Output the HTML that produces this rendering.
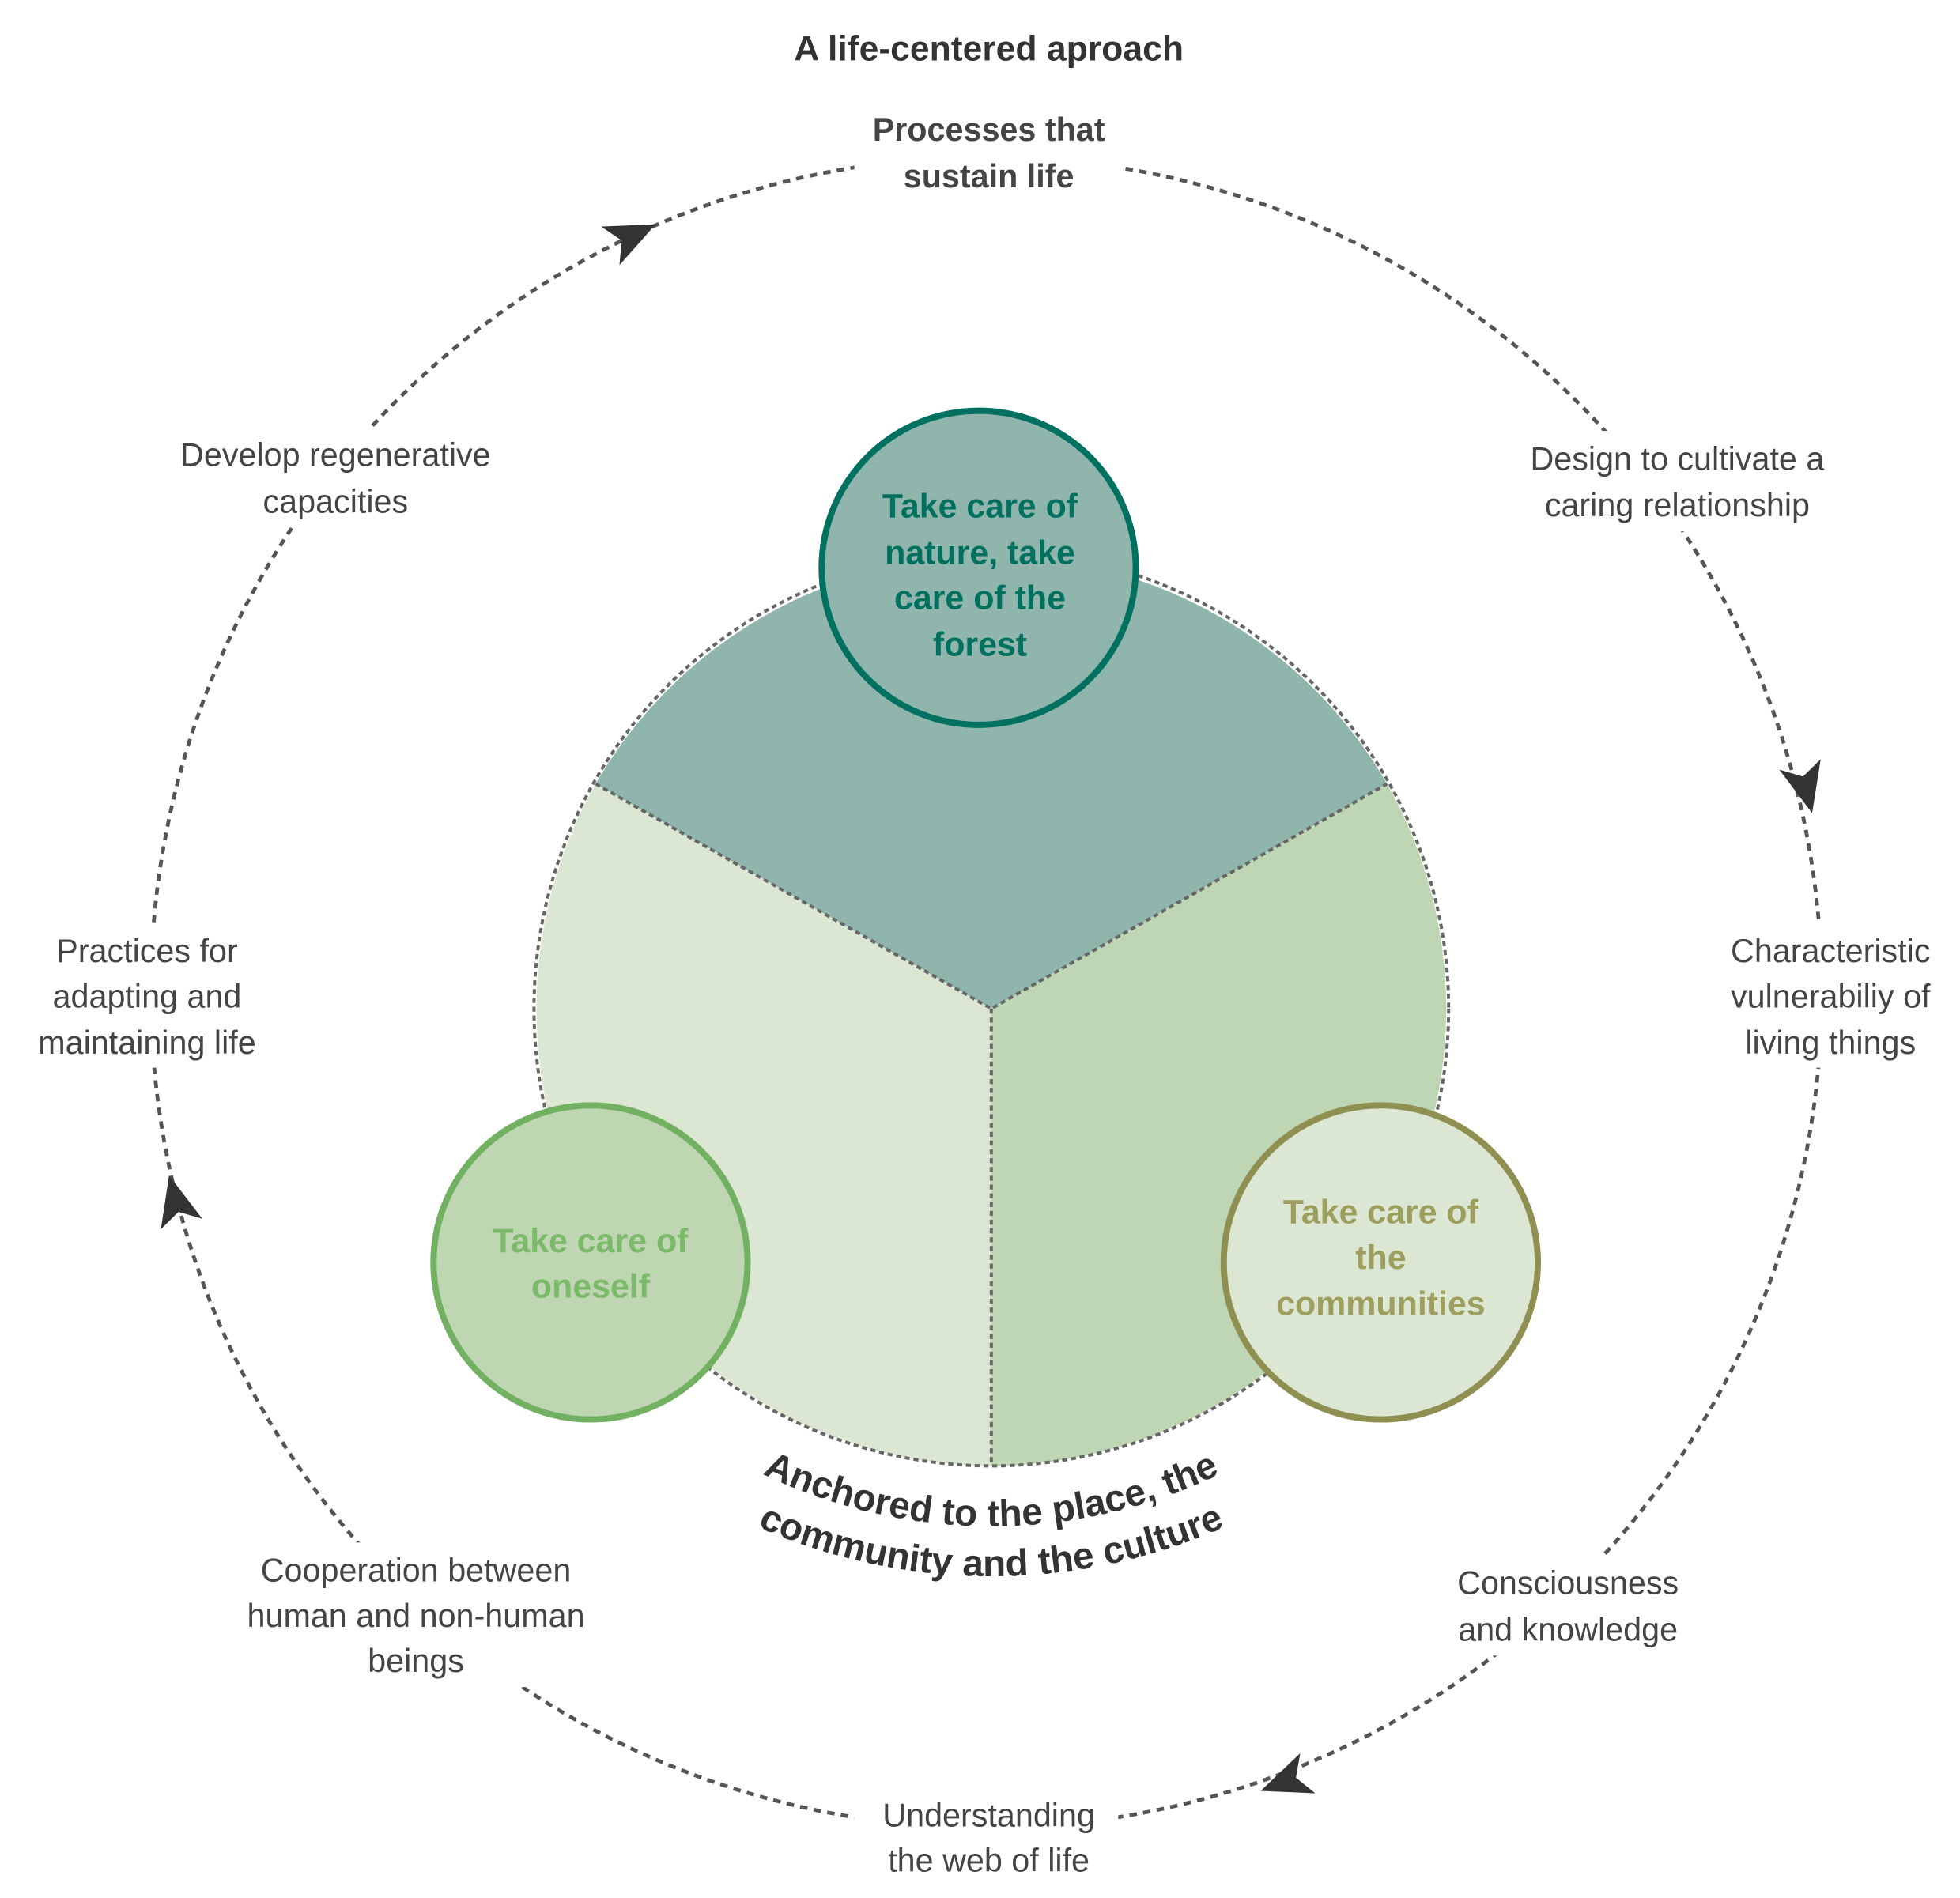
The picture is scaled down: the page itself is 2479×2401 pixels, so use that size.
<!DOCTYPE html>
<html><head><meta charset="utf-8"><style>
html,body{margin:0;padding:0;background:#fff;}
svg{display:block;}
text{font-family:"Liberation Sans",sans-serif;}
</style></head><body>
<svg width="2479" height="2401" viewBox="0 0 1560 1511" xmlns="http://www.w3.org/2000/svg">
<defs>
<path id="a1" d="M 370,796 A 419 419 0 0 0 1208,796"/>
<path id="a2" d="M 330,796 A 459 459 0 0 0 1248,796"/>
</defs>
<rect width="1560" height="1511" fill="#fff"/>
<!-- outer dashed ring -->
<circle cx="785" cy="790" r="665" fill="none" stroke="#555" stroke-width="3" stroke-dasharray="6 5"/>
<!-- label backgrounds -->
<g fill="#fff">
<rect x="680" y="80" width="215" height="80"/>
<rect x="120" y="340" width="295" height="80"/>
<rect x="1195" y="343" width="280" height="80"/>
<rect x="10" y="735" width="215" height="115"/>
<rect x="1360" y="735" width="195" height="115"/>
<rect x="170" y="1228" width="320" height="115"/>
<rect x="1140" y="1238" width="215" height="80"/>
<rect x="680" y="1423" width="210" height="80"/>
</g>
<!-- arrowheads -->
<g fill="#333">
<path d="M22,0 L-18,-17 L-8,0 L-18,17 Z" transform="translate(502,188) rotate(-25.4)"/>
<path d="M22,0 L-18,-17 L-8,0 L-18,17 Z" transform="translate(1437,626) rotate(76)"/>
<path d="M22,0 L-18,-17 L-8,0 L-18,17 Z" transform="translate(1024,1418) rotate(159.5)"/>
<path d="M22,0 L-18,-17 L-8,0 L-18,17 Z" transform="translate(140,957) rotate(255.6)"/>
</g>
<!-- inner big circle sectors -->
<g stroke="none">
<path d="M789,803 L474,624 A 364 364 0 0 1 1104,624 Z" fill="#8fb5ac"/>
<path d="M789,803 L474,624 A 364 364 0 0 0 789,1167 Z" fill="#dbe6d3"/>
<path d="M789,803 L1104,624 A 364 364 0 0 1 789,1167 Z" fill="#bed6b3"/>
</g>
<circle cx="789" cy="803" r="364" fill="none" stroke="#666" stroke-width="2.5" stroke-dasharray="4 3"/>
<path d="M474,624 L789,803 L1104,624 M789,803 L789,1167" fill="none" stroke="#666" stroke-width="2.5" stroke-dasharray="4 3"/>
<!-- small circles -->
<circle cx="779" cy="452" r="125" fill="#8fb5ac" stroke="#007060" stroke-width="5"/>
<circle cx="470" cy="1005" r="125" fill="#bed6b2" stroke="#72b062" stroke-width="5"/>
<circle cx="1099" cy="1005" r="125" fill="#dbe6d3" stroke="#8f8f52" stroke-width="5"/>
<g font-size="27" font-weight="bold" text-anchor="middle">
<g fill="#00705f">
<text x="780" y="412">Take care of</text>
<text x="780" y="449">nature, take</text>
<text x="780" y="485">care of the</text>
<text x="780" y="522">forest</text>
</g>
<g fill="#7cb96a">
<text x="470" y="997">Take care of</text>
<text x="470" y="1033">oneself</text>
</g>
<g fill="#9e9e5e">
<text x="1099" y="974">Take care of</text>
<text x="1099" y="1010">the</text>
<text x="1099" y="1047">communities</text>
</g>
</g>
<!-- curved text -->
<g font-size="30" font-weight="bold" fill="#333">
<text><textPath href="#a1" startOffset="50%" text-anchor="middle">Anchored to the place, the</textPath></text>
<text><textPath href="#a2" startOffset="50%" text-anchor="middle">community and the culture</textPath></text>
</g>
<!-- labels -->
<text x="787" y="48" font-size="28" font-weight="bold" fill="#333" text-anchor="middle">A life-centered aproach</text>
<g font-size="26" fill="#444" text-anchor="middle">
<text x="787" y="112" font-weight="bold">Processes that</text>
<text x="787" y="149" font-weight="bold">sustain life</text>
<text x="267" y="371">Develop regenerative</text>
<text x="267" y="408">capacities</text>
<text x="1335" y="374">Design to cultivate a</text>
<text x="1335" y="411">caring relationship</text>
<text x="117" y="766">Practices for</text>
<text x="117" y="802">adapting and</text>
<text x="117" y="839">maintaining life</text>
<text x="1457" y="766">Characteristic</text>
<text x="1457" y="802">vulnerabiliy of</text>
<text x="1457" y="839">living things</text>
<text x="331" y="1259">Cooperation between</text>
<text x="331" y="1295">human and non-human</text>
<text x="331" y="1331">beings</text>
<text x="1248" y="1269">Consciousness</text>
<text x="1248" y="1306">and knowledge</text>
<text x="787" y="1454">Understanding</text>
<text x="787" y="1490">the web of life</text>
</g>
</svg>
</body></html>
